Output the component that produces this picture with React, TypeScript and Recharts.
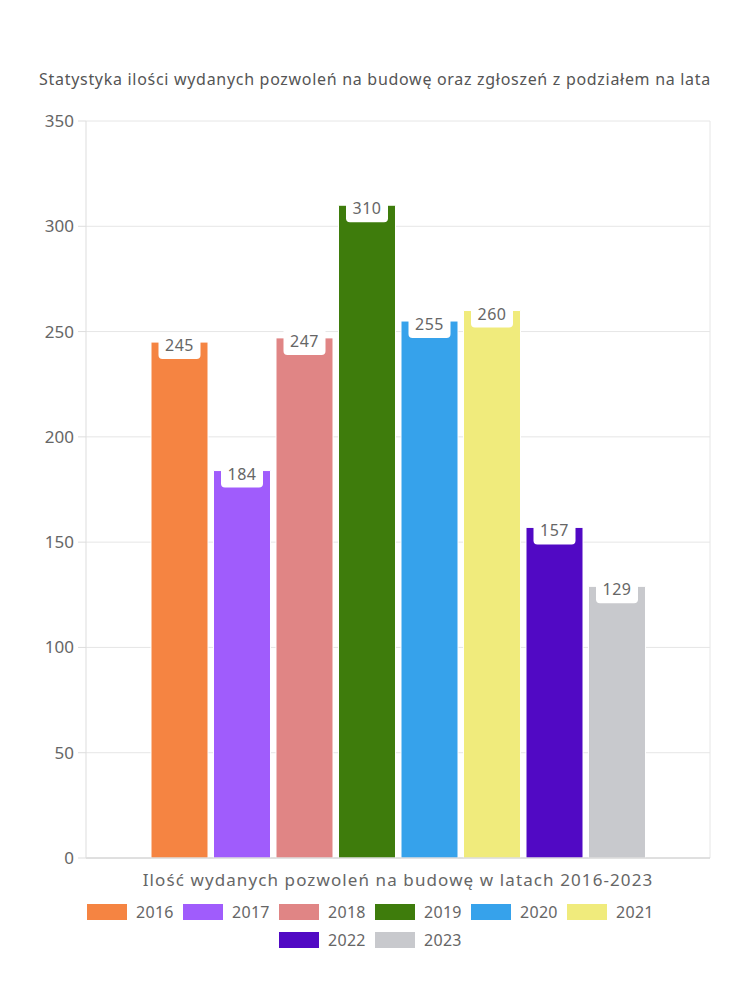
import { BarChart, Bar, XAxis, YAxis, CartesianGrid, Legend, LabelList } from 'recharts'

const years = ['2016', '2017', '2018', '2019', '2020', '2021', '2022', '2023']
const permits = [245, 184, 247, 310, 255, 260, 157, 129]
const colors = ['#F58442', '#A05CFC', '#E08585', '#3E7C0C', '#36A2EB', '#F0EB7C', '#5109C4', '#C8C9CD']
const yTicks = [0, 50, 100, 150, 200, 250, 300, 350]

const title = 'Statystyka ilości wydanych pozwoleń na budowę oraz zgłoszeń z podziałem na lata'
const xTitle = 'Ilość wydanych pozwoleń na budowę w latach 2016-2023'

const row: Record<string, string | number> = { name: 'pozwolenia' }
years.forEach((y, i) => {
  row[y] = permits[i]
})
const data = [row]

const FONT = '"Noto Sans", sans-serif'

function ValueTag(props: any) {
  const { x, y, width, value } = props
  const cx = x + width / 2
  const w = 42
  const h = 25
  const top = y - 8
  const r = 4
  const l = cx - w / 2
  const path = `M${l},${top} H${l + w} V${top + h - r} Q${l + w},${top + h} ${l + w - r},${top + h} H${l + r} Q${l},${top + h} ${l},${top + h - r} Z`
  return (
    <g>
      <path d={path} fill="#fff" />
      <text x={cx} y={y + 9} textAnchor="middle" fontSize={16} fill="#666" fontFamily={FONT} letterSpacing={0.5}>
        {value}
      </text>
    </g>
  )
}

function YearLegend() {
  return (
    <div
      style={{
        display: 'flex',
        flexWrap: 'wrap',
        justifyContent: 'center',
        width: 600,
        margin: '0 auto',
        rowGap: 12,
      }}
    >
      {years.map((y, i) => (
        <div key={y} style={{ display: 'flex', alignItems: 'center', width: 96, height: 16 }}>
          <span style={{ display: 'inline-block', width: 40, height: 16, background: colors[i] }} />
          <span style={{ marginLeft: 9, fontSize: 16, color: '#666', fontFamily: FONT, letterSpacing: 0.3 }}>{y}</span>
        </div>
      ))}
    </div>
  )
}

export default function App() {
  return (
    <div style={{ position: 'relative', width: 734, height: 960, fontFamily: FONT }}>
      <div
        style={{
          position: 'absolute',
          top: 60,
          left: 0,
          width: 734,
          textAlign: 'center',
          fontSize: 16,
          letterSpacing: 0.7,
          color: '#555',
        }}
      >
        {title}
      </div>
      <BarChart
        width={734}
        height={960}
        data={data}
        margin={{ top: 113, right: 32, left: 0, bottom: 0 }}
        barSize={57}
        barGap={5.5}
      >
        <CartesianGrid
          stroke="#e6e6e6"
          vertical
          verticalCoordinatesGenerator={({ offset }: any) => [offset.left + offset.width]}
        />
        <XAxis
          dataKey="name"
          tick={false}
          tickLine={false}
          axisLine={{ stroke: '#ccc' }}
          height={50}
          label={{
            value: xTitle,
            position: 'insideBottom',
            offset: 22,
            fill: '#666',
            fontSize: 17,
            fontFamily: FONT,
            letterSpacing: 1.1,
          }}
        />
        <YAxis
          domain={[0, 350]}
          ticks={yTicks}
          width={78}
          tickSize={8}
          tickMargin={4}
          axisLine={{ stroke: '#ddd' }}
          tickLine={{ stroke: '#ddd' }}
          tick={{ fill: '#666', fontSize: 17, fontFamily: FONT }}
        />
        <Legend
          content={<YearLegend />}
          wrapperStyle={{ position: 'absolute', top: 896, left: 0, width: 734, height: 60 }}
        />
        {years.map((y, i) => (
          <Bar key={y} dataKey={y} fill={colors[i]} stroke="#fff" strokeWidth={1} isAnimationActive={false}>
            <LabelList dataKey={y} content={<ValueTag />} />
          </Bar>
        ))}
      </BarChart>
    </div>
  )
}
